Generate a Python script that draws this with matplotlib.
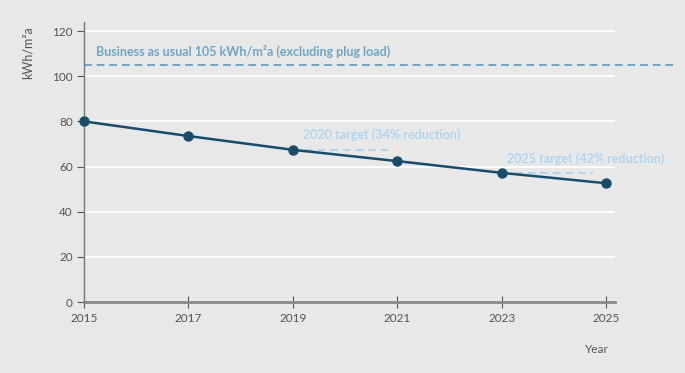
import matplotlib.pyplot as plt

years = [2015, 2017, 2019, 2021, 2023, 2025]
kwh = [80, 73.5, 67.4, 62.4, 57.2, 52.6]
bau = 105
target_2020 = 67.5
target_2025 = 57.2
yticks = [0, 20, 40, 60, 80, 100, 120]

bg = '#e8e8e8'
line_col = '#174c6b'
bau_col = '#6ea6c6'
tgt_col = '#b3d5ee'
grey = '#555555'

plt.rcParams['font.family'] = ['Lato', 'DejaVu Sans']

fig = plt.figure(figsize=(6.85, 3.73), dpi=100, facecolor=bg)
ax = fig.add_axes([0.1226, 0.1903, 0.7752, 0.7507], facecolor=bg)

ax.set_xlim(2015, 2025.17)
ax.set_ylim(0, 124)

for y in yticks[1:]:
    ax.axhline(y, color='white', lw=1.2, zorder=1)

# business as usual line extends past the plot
ax.plot([2015, 2026.32], [bau, bau], color=bau_col, lw=1.4, ls=(0, (4, 2.5)),
        clip_on=False, zorder=2)
ax.text(2015.23, 111, 'Business as usual 105 kWh/m\u00b2a (excluding plug load)',
        color=bau_col, fontsize=9, fontweight='bold', va='center', ha='left')

ax.plot([2019.23, 2020.82], [target_2020, target_2020], color=tgt_col, lw=1.4,
        ls=(0, (4, 2.5)), zorder=2)
ax.text(2019.2, 74, '2020 target (34% reduction)', color=tgt_col, fontsize=9,
        fontweight='bold', va='center', ha='left')
ax.plot([2023.26, 2024.75], [target_2025, target_2025], color=tgt_col, lw=1.4,
        ls=(0, (4, 2.5)), zorder=2)
ax.text(2023.1, 63.4, '2025 target (42% reduction)', color=tgt_col, fontsize=9,
        fontweight='bold', va='center', ha='left')

ax.plot(years, kwh, color=line_col, lw=1.8, marker='o', ms=6.5, zorder=4,
        clip_on=False)

for s in ['top', 'right']:
    ax.spines[s].set_visible(False)
ax.spines['left'].set_color('#777777')
ax.spines['left'].set_linewidth(1.0)
ax.spines['bottom'].set_color('#888888')
ax.spines['bottom'].set_linewidth(2)

ax.set_xticks(years)
ax.set_yticks(yticks)
ax.tick_params(axis='y', colors=grey, labelsize=8.5, length=5, width=0.8,
               direction='out', pad=3)
ax.tick_params(axis='x', colors=grey, labelsize=8.5, length=8, width=0.8,
               direction='inout', pad=4)
for t in ax.get_xticklabels() + ax.get_yticklabels():
    t.set_color(grey)

ax.set_ylabel('kWh/m\u00b2a', color=grey, fontsize=9, labelpad=14)
ax.yaxis.set_label_coords(-0.095, 0.89)
fig.text(0.872, 0.062, 'Year', color=grey, fontsize=8.5, ha='center', va='center')

fig.savefig('out.png', dpi=100, facecolor=bg)
